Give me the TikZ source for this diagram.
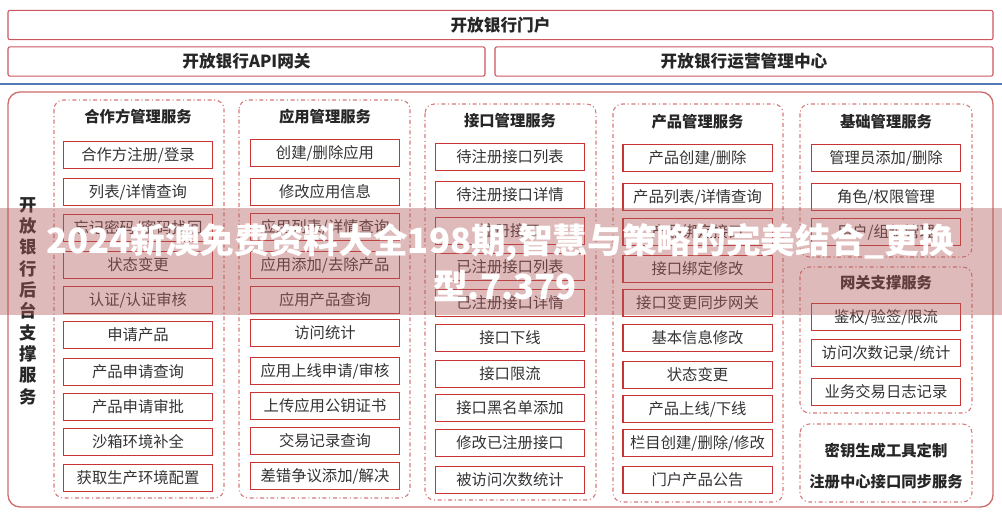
\documentclass[tikz,border=0pt]{standalone}
\usepackage{fontspec}
\setmainfont{Noto Sans CJK SC}
\usepackage{xcolor}
\usepackage{tikz}

\definecolor{boxred}{RGB}{198,52,52}
\definecolor{grpred}{RGB}{214,122,122}
\definecolor{outred}{RGB}{206,108,108}
\definecolor{toppink}{RGB}{204,86,96}
\definecolor{barblue}{RGB}{84,122,182}
\definecolor{bandred}{RGB}{180,92,92}

\tikzset{
  item/.style={draw=boxred, line width=1pt, fill=white, minimum width=112pt, minimum height=20pt, inner sep=0pt, text=black!80, font=\fontsize{11.5}{13}\selectfont},
  grp/.style={draw=grpred, line width=0.8pt, dash dot, rounded corners=7pt},
  ttl/.style={text=black!85, font=\fontsize{11.5}{13}\selectfont\bfseries},
  topbox/.style={draw=toppink, line width=0.8pt, rounded corners=1.5pt, fill=white, minimum height=22pt, inner sep=0pt, text=black!85, font=\fontsize{12.5}{14}\selectfont\bfseries}
}

\begin{document}
\begin{tikzpicture}[x=0.75pt, y=-0.75pt]
\useasboundingbox[fill=white] (0,0) rectangle (1002,524);

\node[topbox, minimum width=738.75pt] (portal) at (500.5,25) {开放银行门户};
\node[topbox, minimum width=357.75pt] (gateway) at (246.5,61.5) {开放银行API网关};
\node[topbox, minimum width=373.5pt] (opscenter) at (744,61.5) {开放银行运营管理中心};

\draw[barblue, line width=2.2pt] (0,84) -- (1002,84);
\draw[outred, line width=1pt, rounded corners=9pt] (8,92) rectangle (993,507);

\node[align=center, text=black!85, font=\fontsize{13}{16}\selectfont\bfseries] (backend) at (28,301) {开\\放\\银\\行\\后\\台\\支\\撑\\服\\务};

\draw[grp] (54,100) rectangle (224,498);
\node[ttl] (partnertitle) at (138,117) {合作方管理服务};
\node[item] (p1) at (138,155) {合作方注册/登录};
\node[item] (p2) at (138,192) {列表/详情查询};
\node[item] (p3) at (138,228) {忘记密码/密码找回};
\node[item] (p4) at (138,265) {状态变更};
\node[item] (p5) at (138,300) {认证/认证审核};
\node[item] (p6) at (138,335) {申请产品};
\node[item] (p7) at (138,372) {产品申请查询};
\node[item] (p8) at (138,407) {产品申请审批};
\node[item] (p9) at (138,442) {沙箱环境补全};
\node[item] (p10) at (138,478) {获取生产环境配置};

\draw[grp] (239,100) rectangle (410,498);
\node[ttl] (apptitle) at (325,117) {应用管理服务};
\node[item] (a1) at (325,153) {创建/删除应用};
\node[item] (a2) at (325,192) {修改应用信息};
\node[item] (a3) at (325,227) {应用列表/详情查询};
\node[item] (a4) at (325,265) {应用添加/去除产品};
\node[item] (a5) at (325,300) {应用产品查询};
\node[item] (a6) at (325,333) {访问统计};
\node[item] (a7) at (325,371) {应用上线申请/审核};
\node[item] (a8) at (325,406) {上传应用公钥证书};
\node[item] (a9) at (325,441) {交易记录查询};
\node[item] (a10) at (325,476) {差错争议添加/解决};

\draw[grp] (425,104) rectangle (596,500);
\node[ttl] (apititle) at (510,121) {接口管理服务};
\node[item] (i1) at (510,157) {待注册接口列表};
\node[item] (i2) at (510,195) {待注册接口详情};
\node[item] (i3) at (510,231) {注册接口};
\node[item] (i4) at (510,267) {已注册接口列表};
\node[item] (i5) at (510,303) {已注册接口详情};
\node[item] (i6) at (510,338) {接口下线};
\node[item] (i7) at (510,374) {接口限流};
\node[item] (i8) at (510,408) {接口黑名单添加};
\node[item] (i9) at (510,443) {修改已注册接口};
\node[item] (i10) at (510,480) {被访问次数统计};

\draw[grp] (613,104) rectangle (783,502);
\node[ttl] (prodtitle) at (697.5,122) {产品管理服务};
\node[item] (r1) at (697.5,158) {产品创建/删除};
\node[item] (r2) at (697.5,197) {产品列表/详情查询};
\node[item] (r3) at (697.5,232) {产品绑定接口};
\node[item] (r4) at (697.5,269) {接口绑定修改};
\node[item] (r5) at (697.5,303) {接口变更同步网关};
\node[item] (r6) at (697.5,338) {基本信息修改};
\node[item] (r7) at (697.5,375) {状态变更};
\node[item] (r8) at (697.5,409) {产品上线/下线};
\node[item] (r9) at (697.5,443) {栏目创建/删除/修改};
\node[item] (r10) at (697.5,480) {门户产品公告};

\draw[grp] (800,104) rectangle (972,257);
\node[ttl] (basetitle) at (886,122) {基础管理服务};
\node[item] (b1) at (886,158) {管理员添加/删除};
\node[item] (b2) at (886,197) {角色/权限管理};
\node[item] (b3) at (886,232) {用户/组织管理};

\draw[grp] (800,267) rectangle (972,413);
\node[ttl] (gwtitle) at (886,283) {网关支撑服务};
\node[item] (g1) at (886,317) {鉴权/验签/限流};
\node[item] (g2) at (886,353) {访问次数记录/统计};
\node[item] (g3) at (886,392) {业务交易日志记录};

\draw[grp] (800,424) rectangle (972,502);
\node[ttl] (keytool) at (886,451) {密钥生成工具定制};
\node[ttl] (regsync) at (886,482) {注册中心接口同步服务};

\fill[bandred, opacity=0.42] (0,208) rectangle (1002,315);
\node[text=white, font=\fontsize{26}{30}\selectfont\bfseries] (mark1) at (500,242) {2024新澳免费资料大全198期,智慧与策略的完美结合\_更换};
\node[text=white, font=\fontsize{26}{30}\selectfont\bfseries] (mark2) at (505,286) {型.7.379};
\end{tikzpicture}
\end{document}
